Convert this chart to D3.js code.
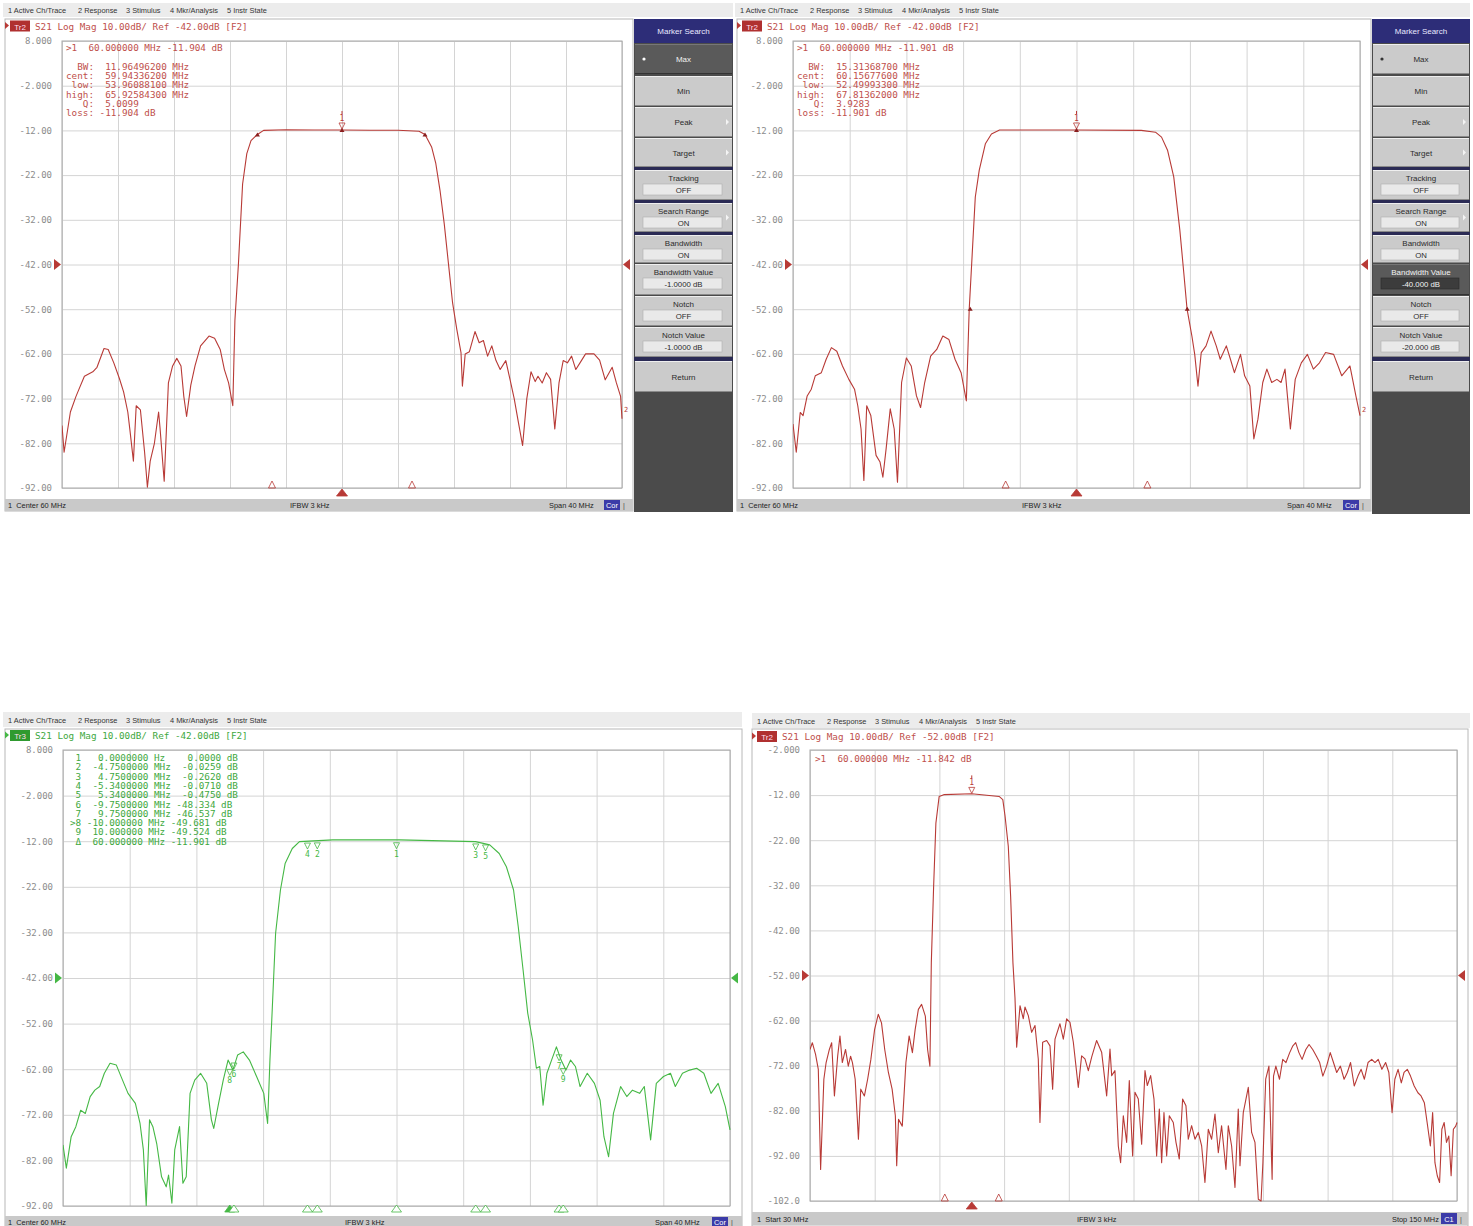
<!DOCTYPE html>
<html><head><meta charset="utf-8">
<script src="https://cdn.jsdelivr.net/npm/d3@7"></script>
<style>body{margin:0;background:#fff}svg{display:block}text{white-space:pre}</style>
</head><body>
<svg id="c" width="1473" height="1226"></svg>
<script>
// ---------------- DATA ----------------
const MENU_ITEMS = ["1 Active Ch/Trace", "2 Response", "3 Stimulus", "4 Mkr/Analysis", "5 Instr State"];

// top-left trace (MHz, dB)
const TL_FREQ = [40.0,40.15,40.6,41.0,41.2,41.6,42.2,42.5,43.0,43.3,43.7,44.1,44.4,44.7,44.85,45.1,45.3,45.6,45.9,46.1,46.3,46.6,46.9,47.0,47.3,47.6,47.9,48.2,48.5,48.7,48.9,49.2,49.5,49.9,50.5,50.9,51.3,51.6,51.9,52.2,52.35,52.6,52.9,53.2,53.5,53.96,54.4,56,58,60,62,64,65.5,65.93,66.4,66.7,67.0,67.3,67.6,67.9,68.2,68.5,68.6,68.8,69.1,69.5,69.8,70.1,70.4,70.7,71.0,71.3,71.7,72.0,72.3,72.6,72.9,73.2,73.5,73.8,74.0,74.3,74.6,74.9,75.2,75.5,75.8,76.1,76.4,76.7,77.0,77.4,78.0,78.4,78.8,79.3,79.6,79.9,80.0];
const TL_DB = [-78,-84,-75,-71.5,-70,-67,-66,-65,-60.8,-61,-64,-67.5,-70.5,-75,-79,-86,-73.6,-74.5,-84,-91.8,-86,-82,-75,-78.5,-90.5,-68.5,-64.7,-63,-64.7,-71.5,-76,-69,-64.7,-60.2,-58,-58.5,-61,-65.5,-68.5,-73.6,-54.5,-42,-24,-17.2,-14.3,-12.9,-12,-11.85,-11.9,-11.9,-11.95,-11.95,-12.2,-12.9,-15.7,-19.4,-25.4,-32.8,-41.7,-50.6,-56.5,-61.7,-69.2,-62,-61.5,-57,-59.5,-59,-62.5,-60.2,-63.5,-65.5,-63.5,-67.7,-72,-77.3,-82.5,-72,-66,-68.2,-67,-68.5,-66.2,-67.7,-78.8,-68.5,-63.5,-64,-62.5,-65.5,-64,-62,-62,-63.4,-67.8,-65,-68.5,-71.5,-76.5];

// top-right trace
const TR_FREQ = [40,40.23,40.51,40.71,41.0,41.29,41.57,42.0,42.34,42.71,43.09,43.49,43.94,44.34,44.57,44.8,45.0,45.2,45.49,45.86,46.14,46.34,46.57,46.86,47.14,47.37,47.66,48.0,48.34,48.71,49.0,49.29,49.71,50.14,50.57,51.0,51.43,51.86,52.23,52.43,52.57,52.86,53.14,53.57,54.0,54.57,60,64.57,65.57,66.0,66.43,66.86,67.29,67.57,67.8,68.14,68.34,68.57,68.8,69.14,69.49,69.86,70.14,70.57,70.86,71.14,71.57,71.86,72.23,72.51,72.8,73.14,73.43,73.77,74.14,74.43,74.71,75.09,75.43,75.86,76.29,76.71,77.14,77.57,78.14,78.71,79.29,79.71,80];
const TR_DB = [-77.7,-84,-75.1,-75.8,-71.4,-69.9,-66.9,-66.2,-63.2,-60.6,-61.4,-64.7,-67.7,-69.9,-73.6,-78.8,-90.3,-73.6,-75.8,-84.7,-86.2,-89.6,-83.2,-74.3,-78.8,-90.7,-68.4,-62.9,-64.7,-71.4,-74,-68.4,-62.5,-61,-58,-58.8,-63.2,-66.2,-72.5,-52.1,-43.9,-26.9,-20.9,-15,-12.8,-11.9,-11.9,-12,-12.4,-13.5,-16.5,-22.4,-34.3,-43.9,-52,-58,-62.1,-69.2,-61.7,-60.2,-56.9,-60.2,-63.2,-60.2,-63.2,-66.2,-62.1,-66.9,-69.2,-81,-76.6,-68.4,-65.4,-68.4,-67.7,-68.4,-65.4,-78.8,-67.7,-64,-62.1,-65.4,-64,-61.7,-62.1,-66.9,-64.7,-71.4,-75.8];

// bottom-left trace (green)
const BL_FREQ = [40,40.2,40.49,40.77,41.06,41.34,41.63,41.91,42.2,42.48,42.82,43.2,43.57,43.9,44.34,44.62,44.82,44.99,45.19,45.39,45.62,45.91,46.19,46.33,46.53,46.7,46.99,47.19,47.39,47.62,47.9,48.25,48.62,48.9,49.04,49.33,49.61,49.9,50.19,50.47,50.81,51.18,51.61,52.04,52.27,52.41,52.52,52.75,53.04,53.32,53.75,54.18,56.18,60.17,64.74,65.59,66.16,66.59,67.02,67.3,67.59,67.87,68.16,68.39,68.59,68.79,69.02,69.3,69.59,69.87,70.16,70.44,70.73,71.01,71.44,71.87,72.21,72.44,72.72,73.01,73.44,73.81,74.15,74.58,74.86,75.24,75.58,76.01,76.43,76.72,77.15,77.58,78.0,78.43,78.86,79.29,79.72,80];
const BL_DB = [-78.6,-83.7,-76.8,-74.6,-71,-71.7,-68,-66.6,-65.8,-62.9,-60.7,-61.1,-64.4,-67.3,-69.5,-73.9,-79.7,-91.9,-73.1,-74.6,-78.3,-85.6,-87.8,-85.2,-91.4,-79.7,-74.6,-87,-85.6,-67.3,-64.4,-62.9,-65.1,-73.1,-75,-69.5,-64.4,-60,-62.2,-58.9,-58.2,-60,-63.6,-67.3,-73.9,-60,-51.2,-32.2,-22.7,-16.9,-13.6,-12.1,-11.7,-11.7,-12.1,-12.8,-14.7,-17.6,-22.7,-30.7,-40.2,-49.7,-55.6,-61.8,-61.4,-69.9,-62.9,-60,-57.1,-60,-62.2,-60,-61.4,-65.8,-62.9,-65.1,-68.8,-76.8,-81.2,-71.7,-65.8,-68,-66.6,-67.3,-65.8,-77.5,-65.1,-63.6,-62.9,-65.8,-62.9,-62.2,-61.8,-62.9,-67.3,-65.1,-70.2,-75.3];

// bottom-right trace (30-150 MHz)
const BR_FREQ = [30.0,30.43,31.03,31.54,31.97,32.57,32.99,33.59,34.02,34.53,35.13,35.56,35.99,36.59,37.1,37.53,37.87,38.38,38.98,39.41,40.09,40.69,41.29,41.98,42.66,43.26,43.86,44.54,45.23,45.83,46.08,46.42,47.11,47.79,48.39,48.99,49.5,50.1,50.7,51.39,51.81,52.24,52.5,52.93,53.35,53.95,54.81,60.0,65.07,65.76,66.18,66.78,67.21,67.64,
  68.02,68.33,68.95,69.56,69.87,70.49,71.11,71.73,72.34,72.65,73.15,73.89,74.51,75.0,75.44,76.36,76.98,77.6,78.22,78.84,79.76,80.38,81.0,81.62,82.24,83.16,84.09,85.02,85.64,85.95,86.56,87.18,87.61,88.11,88.73,89.22,89.84,90.27,90.89,91.51,92.13,92.56,93.18,93.8,94.29,94.79,95.22,95.65,96.15,96.64,97.38,97.88,98.49,99.11,99.73,100.16,100.78,101.4,102.02,102.64,103.25,103.87,104.49,105.11,105.73,106.34,107.15,107.58,108.2,108.82,109.43,109.75,110.36,111.29,111.91,112.53,113.15,
  113.66,114.0,114.52,115.12,115.71,115.97,116.4,117.08,117.68,118.28,118.97,119.56,120.08,120.68,121.27,121.96,122.56,123.24,123.93,124.53,125.12,125.81,126.49,127.09,127.69,128.37,129.06,129.66,130.26,130.94,131.63,132.22,132.82,133.5,134.19,134.79,135.39,136.07,136.76,137.36,137.96,138.47,139.07,139.67,140.18,140.78,141.38,142.06,142.75,143.34,143.94,144.46,145.06,145.48,145.91,146.34,146.77,147.19,147.62,148.05,148.48,148.91,149.33,149.76,150];
const BR_DB = [-68.4,-66.9,-69.5,-72.8,-95.0,-75.0,-71.3,-68.4,-66.9,-78.7,-69.9,-65.4,-71.3,-68.4,-72.1,-69.9,-71.3,-75.0,-88.3,-77.2,-78.7,-75.0,-70.6,-64.0,-60.6,-62.5,-68.4,-73.5,-77.2,-83.1,-94.2,-83.9,-85.4,-71.3,-65.4,-69.1,-64.0,-59.5,-58.4,-61.0,-68.4,-72.1,-49.2,-32.2,-18.2,-12.3,-11.9,-11.7,-12.3,-13.0,-16.7,-23.4,-34.4,-49.2,
  -57,-67.9,-58.7,-61.6,-59,-60.9,-64.6,-63.1,-70.5,-84.6,-66.8,-66.4,-67.6,-77.2,-66.1,-62.7,-66.1,-61.6,-62.4,-66.8,-76.8,-69.8,-70.5,-73.1,-70.1,-66.4,-69,-78.7,-68.3,-74.2,-73.1,-89.8,-93.5,-83.1,-89,-75.3,-92,-77.9,-79.4,-89.4,-73.1,-76.4,-74.2,-79.4,-92,-81.6,-93.5,-82.4,-92,-83.1,-84.6,-89,-92.7,-79.4,-80.9,-88.3,-85.3,-88.3,-86.8,-89.8,-97.9,-86.1,-88.3,-82.7,-91.3,-85.3,-95,-85.3,-89.8,-99,-81.6,-94.2,-82.4,-76.8,-86.8,-89,-101.6,
  -102,-93.5,-75.0,-72.1,-97.2,-74.3,-72.1,-75.0,-70.6,-71.3,-69.1,-67.6,-66.9,-69.1,-70.6,-68.4,-67.3,-68.4,-69.9,-71.3,-74.3,-72.1,-69.1,-71.3,-73.5,-72.1,-75.0,-73.5,-71.3,-76.5,-74.3,-72.8,-75.0,-71.3,-70.6,-71.3,-70.6,-72.8,-71.3,-73.5,-82.4,-75.0,-72.8,-75.8,-73.5,-72.8,-74.3,-76.5,-78.0,-78.7,-80.2,-84.6,-89.8,-82.4,-93.5,-96.4,-97.9,-86.1,-84.6,-89.0,-87.6,-96.4,-86.1,-85.4,-84.6];

// tick labels
const Y_LABELS_REF42 = ["8.000","-2.000","-12.00","-22.00","-32.00","-42.00","-52.00","-62.00","-72.00","-82.00","-92.00"];
const Y_LABELS_REF52 = ["-2.000","-12.00","-22.00","-32.00","-42.00","-52.00","-62.00","-72.00","-82.00","-92.00","-102.0"];

// marker readouts
const TL_READOUT = [">1  60.000000 MHz -11.904 dB"];
const TL_BW = ["  BW:  11.96496200 MHz","cent:  59.94336200 MHz"," low:  53.96088100 MHz","high:  65.92584300 MHz","   Q:  5.0099","loss: -11.904 dB"];
const TR_READOUT = [">1  60.000000 MHz -11.901 dB"];
const TR_BW = ["  BW:  15.31368700 MHz","cent:  60.15677600 MHz"," low:  52.49993300 MHz","high:  67.81362000 MHz","   Q:  3.9283","loss: -11.901 dB"];
const BR_READOUT = [">1  60.000000 MHz -11.842 dB"];
const BL_TABLE = [
  " 1   0.0000000 Hz    0.0000 dB",
  " 2  -4.7500000 MHz  -0.0259 dB",
  " 3   4.7500000 MHz  -0.2620 dB",
  " 4  -5.3400000 MHz  -0.0710 dB",
  " 5   5.3400000 MHz  -0.4750 dB",
  " 6  -9.7500000 MHz -48.334 dB",
  " 7   9.7500000 MHz -46.537 dB",
  ">8 -10.000000 MHz -49.681 dB",
  " 9  10.000000 MHz -49.524 dB",
  " \u0394  60.000000 MHz -11.901 dB"];
// bottom-left markers: number, MHz, absolute dB
const BL_MARK_NUM  = ["4","2","1","3","5","8","6","7","9"];
const BL_MARK_FREQ = [54.66,55.25,60,64.75,65.34,50,50.25,69.75,70];
const BL_MARK_DB   = [-11.97,-11.93,-11.90,-12.16,-12.38,-61.6,-60.2,-58.4,-61.4];

// ---------------- DRAWING ----------------
const svg = d3.select('#c');
const MONO = "'DejaVu Sans Mono','Liberation Mono',monospace";
const SANS = "'Liberation Sans',Arial,sans-serif";
const RED = '#b83a36', RED_TXT = '#c0504c', GREEN = '#45b845', GREEN_TXT = '#3ea83e';
const zip = (f, d) => f.map((v, i) => [v, d[i]]);
let clipId = 0;

function tri(g, x, yTip, dir, w, h, fill, stroke) {
  let pts;
  if (dir === 'up') pts = [[x, yTip], [x - w / 2, yTip + h], [x + w / 2, yTip + h]];
  else if (dir === 'down') pts = [[x, yTip], [x - w / 2, yTip - h], [x + w / 2, yTip - h]];
  else if (dir === 'right') pts = [[x, yTip], [x - h, yTip - w / 2], [x - h, yTip + w / 2]];
  else pts = [[x, yTip], [x + h, yTip - w / 2], [x + h, yTip + w / 2]];
  g.append('path').attr('d', 'M' + pts.map(p => p.join(',')).join('L') + 'Z')
    .attr('fill', fill).attr('stroke', stroke || 'none').attr('stroke-width', 0.8);
}

function menuBar(x0, y0, x1, y1) {
  const offs = [0, 70, 118, 162, 219];
  svg.append('rect').attr('x', x0).attr('y', y0).attr('width', x1 - x0).attr('height', y1 - y0).attr('fill', '#ececec');
  MENU_ITEMS.forEach((m, i) => svg.append('text').attr('x', x0 + 5 + offs[i]).attr('y', y1 - 4)
    .attr('font-family', SANS).attr('font-size', 7.4).attr('fill', '#333').text(m));
}

function panel(P) {
  const g = svg.append('g');
  const [l, t, r, b] = P.plot;
  g.append('rect').attr('x', P.win[0]).attr('y', P.win[1]).attr('width', P.win[2] - P.win[0]).attr('height', P.win[3] - P.win[1])
    .attr('fill', '#fff').attr('stroke', '#b8b8b8').attr('stroke-width', 1);
  const [tx, ty] = P.title;
  tri(g, tx + 4, ty - 4, 'right', 7, 4, P.color);
  g.append('rect').attr('x', tx + 5).attr('y', ty - 9).attr('width', 20).attr('height', 11).attr('fill', P.trColor);
  g.append('text').attr('x', tx + 15).attr('y', ty).attr('text-anchor', 'middle').attr('font-family', SANS)
    .attr('font-size', 8).attr('fill', '#fde').text(P.trName);
  g.append('text').attr('x', tx + 30).attr('y', ty).attr('font-family', MONO).attr('font-size', 9.3)
    .attr('fill', P.txtColor).text(P.titleText);

  const x = d3.scaleLinear().domain(P.xDomain).range([l, r]);
  const y = d3.scaleLinear().domain(P.yDomain).range([b, t]);
  const xt = d3.range(11).map(i => P.xDomain[0] + i * (P.xDomain[1] - P.xDomain[0]) / 10);
  const yt = d3.range(11).map(i => P.yDomain[1] - i * (P.yDomain[1] - P.yDomain[0]) / 10);

  const gx = g.append('g').attr('transform', `translate(0,${b})`)
    .call(d3.axisBottom(x).tickValues(xt).tickSize(-(b - t)).tickFormat(''));
  gx.select('.domain').remove();
  gx.selectAll('line').attr('stroke', '#d4d4d4');
  const gy = g.append('g').attr('transform', `translate(${l},0)`)
    .call(d3.axisLeft(y).tickValues(yt).tickSize(-(r - l)).tickPadding(10).tickFormat((d, i) => P.yLabels[i]));
  gy.select('.domain').remove();
  gy.selectAll('line').attr('stroke', '#d4d4d4');
  gy.selectAll('text').attr('font-family', MONO).attr('font-size', 9).attr('fill', '#8c8c8c');
  g.append('rect').attr('x', l).attr('y', t).attr('width', r - l).attr('height', b - t)
    .attr('fill', 'none').attr('stroke', '#a8a8a8');

  const yr = y(P.ref);
  tri(g, l - 1, yr, 'right', 11, 7, P.color);
  tri(g, r + 1, yr, 'left', 11, 7, P.color);

  const id = 'clip' + (clipId++);
  g.append('clipPath').attr('id', id).append('rect').attr('x', l).attr('y', t - 1).attr('width', r - l + 1).attr('height', b - t + 2);
  g.append('path').datum(zip(P.freq, P.db)).attr('clip-path', `url(#${id})`)
    .attr('d', d3.line().x(d => x(d[0])).y(d => y(d[1])))
    .attr('fill', 'none').attr('stroke', P.color).attr('stroke-width', 1.1).attr('stroke-linejoin', 'round');

  const [fy0, fy1] = P.footerY;
  g.append('rect').attr('x', P.win[0]).attr('y', fy0).attr('width', P.win[2] - P.win[0]).attr('height', fy1 - fy0).attr('fill', '#c9c9c9');
  P.footer.forEach(f => g.append('text').attr('x', f[1]).attr('y', fy1 - 3).attr('font-family', SANS)
    .attr('font-size', 7.4).attr('fill', '#222').text(f[0]));
  g.append('rect').attr('x', P.cor[1]).attr('y', fy0 + 1).attr('width', 16).attr('height', fy1 - fy0 - 2).attr('fill', '#3b3ba8');
  g.append('text').attr('x', P.cor[1] + 8).attr('y', fy1 - 3).attr('text-anchor', 'middle').attr('font-family', SANS)
    .attr('font-size', 7.4).attr('fill', '#fff').text(P.cor[0]);
  g.append('text').attr('x', P.cor[1] + 19).attr('y', fy1 - 3).attr('font-family', SANS).attr('font-size', 7).attr('fill', '#444').text('|');

  if (P.readout) P.readout.forEach((s, i) => g.append('text').attr('x', P.readX).attr('y', P.readY + i * P.readDy)
    .attr('font-family', MONO).attr('font-size', 9.3).attr('fill', P.txtColor).text(s));
  if (P.bwLines) P.bwLines.forEach((s, i) => g.append('text').attr('x', P.readX).attr('y', P.bwY + i * 9.2)
    .attr('font-family', MONO).attr('font-size', 9.3).attr('fill', P.txtColor).text(s));
  return { g, x, y };
}

function sidePanel(x0, x1, yTop, yBot, items) {
  const g = svg.append('g');
  const w = x1 - x0;
  g.append('rect').attr('x', x0).attr('y', yTop).attr('width', w).attr('height', yBot - yTop).attr('fill', '#4b4b4b');
  items.forEach(it => {
    const h = it.y1 - it.y0;
    if (it.k === 'hdr') {
      g.append('rect').attr('x', x0).attr('y', it.y0).attr('width', w).attr('height', h).attr('fill', '#2d2d78');
      g.append('text').attr('x', x0 + w / 2).attr('y', it.y0 + h / 2 + 3).attr('text-anchor', 'middle')
        .attr('font-family', SANS).attr('font-size', 8).attr('fill', '#e8e8ff').text(it.label);
    } else if (it.k === 'sep') {
      g.append('rect').attr('x', x0).attr('y', it.y0).attr('width', w).attr('height', h).attr('fill', '#2b2b55');
    } else {
      const dark = !!it.dark;
      g.append('rect').attr('x', x0 + 1).attr('y', it.y0).attr('width', w - 2).attr('height', h)
        .attr('fill', dark ? '#5a5a5a' : '#cbcbcb');
      g.append('line').attr('x1', x0 + 1).attr('x2', x1 - 1).attr('y1', it.y0 + 0.5).attr('y2', it.y0 + 0.5).attr('stroke', dark ? '#777' : '#efefef');
      g.append('line').attr('x1', x0 + 1).attr('x2', x1 - 1).attr('y1', it.y1 - 0.5).attr('y2', it.y1 - 0.5).attr('stroke', dark ? '#333' : '#8a8a8a');
      const tc = dark ? '#f2f2f2' : '#2b2b2b';
      if (it.value !== undefined) {
        g.append('text').attr('x', x0 + w / 2).attr('y', it.y0 + 11).attr('text-anchor', 'middle')
          .attr('font-family', SANS).attr('font-size', 8).attr('fill', tc).text(it.label);
        g.append('rect').attr('x', x0 + 9).attr('y', it.y0 + 14).attr('width', w - 20).attr('height', 11)
          .attr('fill', dark ? '#3c3c3c' : '#e9e9e9').attr('stroke', dark ? '#2a2a2a' : '#b0b0b0').attr('stroke-width', 0.6);
        g.append('text').attr('x', x0 + w / 2).attr('y', it.y0 + 23).attr('text-anchor', 'middle')
          .attr('font-family', SANS).attr('font-size', 7.8).attr('fill', tc).text(it.value);
      } else {
        g.append('text').attr('x', x0 + w / 2).attr('y', it.y0 + h / 2 + 3).attr('text-anchor', 'middle')
          .attr('font-family', SANS).attr('font-size', 8).attr('fill', tc).text(it.label);
      }
      if (it.bullet) g.append('circle').attr('cx', x0 + 10).attr('cy', it.y0 + h / 2).attr('r', 1.6).attr('fill', dark ? '#fff' : '#333');
      if (it.arrow) tri(g, x1 - 4, it.y0 + h / 2, 'right', 6, 3, '#f4f4f4');
    }
  });
}

function sideItems(bwDark, bwVal, notchVal, maxDark) {
  return [
    { k: 'hdr', y0: 19, y1: 43, label: 'Marker Search' },
    { k: 'btn', y0: 44, y1: 74, label: 'Max', bullet: true, dark: maxDark },
    { k: 'btn', y0: 76, y1: 106, label: 'Min' },
    { k: 'btn', y0: 107, y1: 137, label: 'Peak', arrow: true },
    { k: 'btn', y0: 138, y1: 167, label: 'Target', arrow: true },
    { k: 'sep', y0: 167, y1: 170 },
    { k: 'btn', y0: 170, y1: 200, label: 'Tracking', value: 'OFF' },
    { k: 'sep', y0: 200, y1: 203 },
    { k: 'btn', y0: 203, y1: 232, label: 'Search Range', value: 'ON', arrow: true },
    { k: 'sep', y0: 232, y1: 235 },
    { k: 'btn', y0: 235, y1: 263, label: 'Bandwidth', value: 'ON' },
    { k: 'btn', y0: 264, y1: 295, label: 'Bandwidth Value', value: bwVal, dark: bwDark },
    { k: 'btn', y0: 296, y1: 326, label: 'Notch', value: 'OFF' },
    { k: 'btn', y0: 327, y1: 357, label: 'Notch Value', value: notchVal },
    { k: 'sep', y0: 357, y1: 361 },
    { k: 'btn', y0: 361, y1: 392, label: 'Return' }
  ];
}

// ---- Top-left ----
menuBar(3, 3, 733, 17);
const A = panel({
  win: [5, 19, 633, 511], plot: [62, 41, 622, 488], title: [5, 29.5], trName: 'Tr2', trColor: '#b03030',
  color: RED, txtColor: RED_TXT, titleText: 'S21 Log Mag 10.00dB/ Ref -42.00dB [F2]',
  xDomain: [40, 80], yDomain: [-92, 8], yLabels: Y_LABELS_REF42, ref: -42, freq: TL_FREQ, db: TL_DB,
  footerY: [499, 511], footer: [['1  Center 60 MHz', 8], ['IFBW 3 kHz', 290], ['Span 40 MHz', 549]], cor: ['Cor', 604],
  readout: TL_READOUT, readX: 66, readY: 51, readDy: 9, bwLines: TL_BW, bwY: 70
});
sidePanel(634, 733, 19, 512, sideItems(false, '-1.0000 dB', '-1.0000 dB', true));

// ---- Top-right ----
menuBar(735, 3, 1470, 17);
const B = panel({
  win: [737, 19, 1371, 511], plot: [793, 41, 1360, 488], title: [737, 29.5], trName: 'Tr2', trColor: '#b03030',
  color: RED, txtColor: RED_TXT, titleText: 'S21 Log Mag 10.00dB/ Ref -42.00dB [F2]',
  xDomain: [40, 80], yDomain: [-92, 8], yLabels: Y_LABELS_REF42, ref: -42, freq: TR_FREQ, db: TR_DB,
  footerY: [499, 511], footer: [['1  Center 60 MHz', 740], ['IFBW 3 kHz', 1022], ['Span 40 MHz', 1287]], cor: ['Cor', 1343],
  readout: TR_READOUT, readX: 797, readY: 51, readDy: 9, bwLines: TR_BW, bwY: 70
});
sidePanel(1372, 1470, 19, 514, sideItems(true, '-40.000 dB', '-20.000 dB', false));

// ---- Bottom-left ----
menuBar(3, 712, 742, 727);
const C = panel({
  win: [5, 729, 742, 1230], plot: [63, 750, 730, 1206], title: [5, 739], trName: 'Tr3', trColor: '#2f9a2f',
  color: GREEN, txtColor: GREEN_TXT, titleText: 'S21 Log Mag 10.00dB/ Ref -42.00dB [F2]',
  xDomain: [40, 80], yDomain: [-92, 8], yLabels: Y_LABELS_REF42, ref: -42, freq: BL_FREQ, db: BL_DB,
  footerY: [1216, 1228], footer: [['1  Center 60 MHz', 8], ['IFBW 3 kHz', 345], ['Span 40 MHz', 655]], cor: ['Cor', 712],
  readout: BL_TABLE, readX: 70, readY: 761, readDy: 9.3
});

// ---- Bottom-right ----
menuBar(752, 713, 1470, 728);
const D = panel({
  win: [752, 729, 1468, 1226], plot: [810, 750, 1457, 1201], title: [752, 740], trName: 'Tr2', trColor: '#b03030',
  color: RED, txtColor: RED_TXT, titleText: 'S21 Log Mag 10.00dB/ Ref -52.00dB [F2]',
  xDomain: [30, 150], yDomain: [-102, -2], yLabels: Y_LABELS_REF52, ref: -52, freq: BR_FREQ, db: BR_DB,
  footerY: [1212, 1225], footer: [['1  Start 30 MHz', 757], ['IFBW 3 kHz', 1077], ['Stop 150 MHz', 1392]], cor: ['C1', 1441],
  readout: BR_READOUT, readX: 815, readY: 762, readDy: 9
});

// ---- markers ----
function markerAbove(P, f, db, num, color) {
  const px = P.x(f), py = P.y(db);
  tri(P.g, px, py - 1, 'down', 6, 6, 'none', color);
  P.g.append('text').attr('x', px).attr('y', py - 9).attr('text-anchor', 'middle').attr('font-family', MONO)
    .attr('font-size', 8).attr('fill', color).text(num);
  P.g.append('line').attr('x1', px).attr('x2', px).attr('y1', py - 19).attr('y2', py - 16).attr('stroke', color);
}
function smallFilled(P, f, db, color) { tri(P.g, P.x(f), P.y(db) - 2, 'up', 5, 4, color); }
function axisTri(P, f, filled, color, below) {
  const yb = P.y.range()[0];
  if (below) tri(P.g, P.x(f), yb + 1, 'up', 11, 7, filled ? color : '#fff', color);
  else tri(P.g, P.x(f), yb - 7, 'up', 7, 7, filled ? color : 'none', color);
}

markerAbove(A, 60, -11.904, '1', RED);
smallFilled(A, 53.96, -12.9, '#8a1f1f'); smallFilled(A, 65.93, -12.9, '#8a1f1f'); smallFilled(A, 60, -11.9, '#8a1f1f');
axisTri(A, 55, false, RED); axisTri(A, 65, false, RED); axisTri(A, 60, true, RED, true);
A.g.append('text').attr('x', 624).attr('y', 412).attr('font-family', MONO).attr('font-size', 7).attr('fill', RED).text('2');

markerAbove(B, 60, -11.901, '1', RED);
smallFilled(B, 52.5, -51.9, '#8a1f1f'); smallFilled(B, 67.81, -51.9, '#8a1f1f'); smallFilled(B, 60, -11.9, '#8a1f1f');
axisTri(B, 55, false, RED); axisTri(B, 65, false, RED); axisTri(B, 60, true, RED, true);
B.g.append('text').attr('x', 1362).attr('y', 412).attr('font-family', MONO).attr('font-size', 7).attr('fill', RED).text('2');

markerAbove(D, 60, -11.842, '1', RED);
axisTri(D, 55, false, RED); axisTri(D, 65, false, RED); axisTri(D, 60, true, RED, true);

BL_MARK_NUM.forEach((n, i) => {
  const px = C.x(BL_MARK_FREQ[i]), py = C.y(BL_MARK_DB[i]);
  tri(C.g, px, py + 8, 'down', 6, 6, 'none', GREEN);
  C.g.append('text').attr('x', px).attr('y', py + 16).attr('text-anchor', 'middle').attr('font-family', MONO)
    .attr('font-size', 8).attr('fill', GREEN).text(n);
  const yb = C.y.range()[0];
  tri(C.g, px, yb - 1, 'up', 10, 7, n === '8' ? GREEN : '#fff', GREEN);
});
</script>
</body></html>
